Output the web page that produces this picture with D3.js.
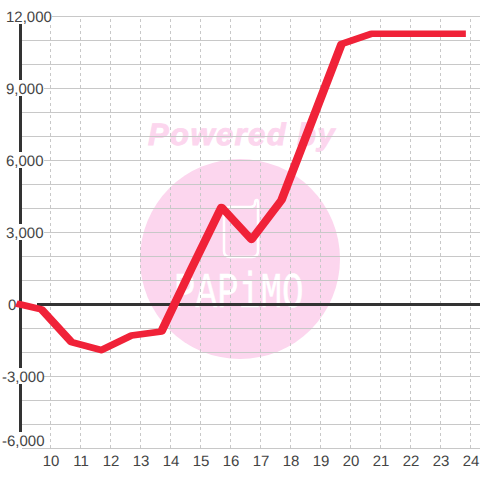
<!DOCTYPE html>
<html><head><meta charset="utf-8">
<script src="https://cdn.jsdelivr.net/npm/d3@7"></script>
<style>html,body{margin:0;padding:0;background:#fff}svg{display:block}text{text-rendering:geometricPrecision}</style></head>
<body><div id="chart"></div>
<script>
const hours=[9,9.7,10.7,11.7,12.7,13.7,14.7,15.7,16.7,17.7,18.7,19.7,20.7,21.7,22.7,23.7];
const values=[0,-200,-1570,-1900,-1290,-1120,1500,4060,2700,4350,7600,10850,11280,11280,11280,11280];
const xTicks=[10,11,12,13,14,15,16,17,18,19,20,21,22,23,24];
const yLabelled=[12000,9000,6000,3000,0,-3000,-6000];
const yGrid=d3.range(-6000,12001,1000);
const W=480,H=480;
const x=d3.scaleLinear().domain([9,24]).range([20,470]);
const y=d3.scaleLinear().domain([-6000,12000]).range([448,16]);
const svg=d3.select("#chart").append("svg").attr("width",W).attr("height",H);
svg.append("rect").attr("width",W).attr("height",H).attr("fill","#fff");

// watermark
const wm=svg.append("g");
wm.append("circle").attr("cx",240).attr("cy",259).attr("r",100).attr("fill","#fcd6ee");
wm.append("text").attr("x",242).attr("y",145).attr("text-anchor","middle")
 .attr("font-family","Liberation Sans").attr("font-weight","bold").attr("font-style","italic")
 .attr("font-size",31).attr("letter-spacing",1.4).attr("fill","#fcd6ee")
 .attr("stroke","#fcd6ee").attr("stroke-width",0.9).text("Powered by");
wm.append("path").attr("d","M230 207H250Q255 207 255 203Q255 200 257 200Q258 200 258 203V251Q258 257 252 257H230Q224 257 224 251V213Q224 207 230 207Z")
 .attr("fill","none").attr("stroke","#fff").attr("stroke-width",2.5);
wm.append("text").attr("transform","translate(174,307) scale(0.72,1)")
 .attr("font-family","Liberation Mono").attr("font-size",50).attr("fill","#fff")
 .attr("stroke","#fff").attr("stroke-width",0.4).text("PAPiMO");

// grid
const gy=svg.append("g").attr("transform","translate(22,0)")
 .call(d3.axisLeft(y).tickValues(yGrid).tickSize(-458).tickFormat(""));
gy.select(".domain").remove();
gy.selectAll("line").attr("stroke","#c8c8c8").attr("stroke-width",1);
const gx=svg.append("g").attr("transform","translate(0,448)")
 .call(d3.axisBottom(x).tickValues(xTicks).tickSize(-432).tickFormat(""));
gx.select(".domain").remove();
gx.selectAll("line").attr("stroke","#c8c8c8").attr("stroke-dasharray","3,3");

// axis lines
svg.append("line").attr("x1",x(9)+.5).attr("x2",x(9)+.5).attr("y1",y(12000)+.5).attr("y2",y(-6000)).attr("stroke","#333").attr("stroke-width",3);
svg.append("line").attr("x1",x(9)).attr("x2",W).attr("y1",y(0)+.5).attr("y2",y(0)+.5).attr("stroke","#333").attr("stroke-width",3);

// y labels with white plates
const fmt=v=>d3.format(",")(v).replace("\u2212","-");
const labelEnd=v=>v===0?37:(v===12000?52:44);
const labelX=v=>v===0?8:(v<0?2:6);
const labelShift=v=>v===-6000?-8:0;
const yl=svg.append("g").attr("font-family","Liberation Sans").attr("font-size",15).attr("fill","#444");
yLabelled.forEach(v=>{
  const c=y(v)+labelShift(v);
  yl.append("rect").attr("x",0).attr("y",c-8).attr("width",labelEnd(v)).attr("height",16).attr("fill","#fff");
  yl.append("text").attr("x",labelX(v)).attr("y",c+6).text(fmt(v));
});
// the axis still passes behind the zero plate
svg.append("line").attr("x1",x(9)+.5).attr("x2",x(9)+.5).attr("y1",y(0)-9).attr("y2",y(0)+9).attr("stroke","#333").attr("stroke-width",3);

// x labels
const xl=svg.append("g").attr("font-family","Liberation Sans").attr("font-size",15).attr("fill","#444").attr("text-anchor","middle");
xTicks.forEach(t=>xl.append("text").attr("x",x(t)+1).attr("y",466).text(t));

// series: the reference pen is wider than it is tall, so draw it in a stretched space
const penStretch=1.32;
const line=d3.line().x((d,i)=>(x(hours[i])+.5)/penStretch).y(d=>y(d)+.5);
svg.append("path").datum(values).attr("d",line).attr("transform",`scale(${penStretch},1)`)
 .attr("fill","none").attr("stroke","#f02238")
 .attr("stroke-width",6.6).attr("stroke-linecap","square").attr("stroke-linejoin","round");
</script></body></html>
